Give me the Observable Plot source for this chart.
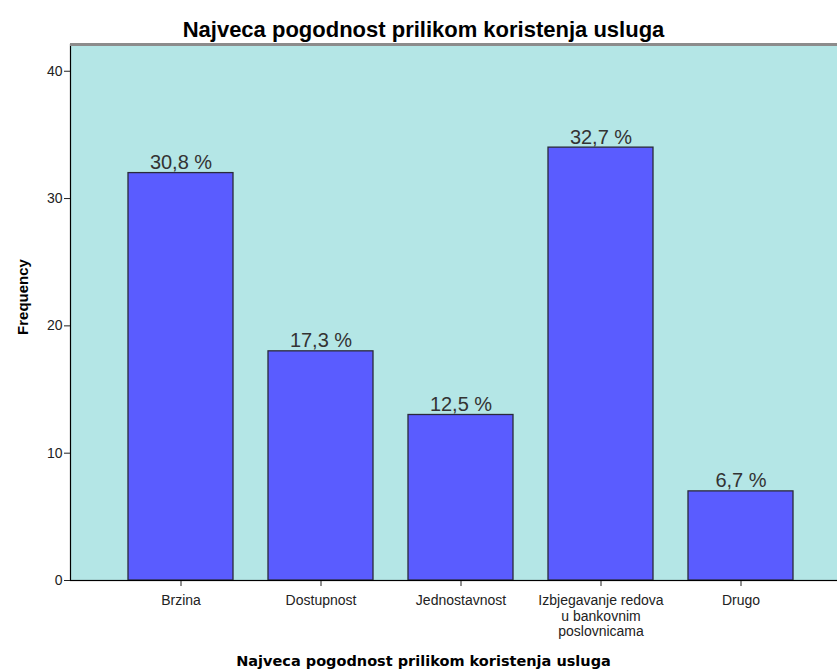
<!DOCTYPE html>
<html>
<head>
<meta charset="utf-8">
<script src="https://cdn.jsdelivr.net/npm/d3@7"></script>
<script src="https://cdn.jsdelivr.net/npm/@observablehq/plot@0.6"></script>
<style>
  body { margin: 0; background: #fff; }
  #wrap { position: relative; width: 837px; height: 672px; overflow: hidden; font-family: "Liberation Sans", Arial, sans-serif; }
  #title { position: absolute; left: 0; top: 17px; width: 847px; text-align: center; font-weight: bold; font-size: 22px; color: #000; }
  #chart { position: absolute; left: 0; top: 40px; }
  #ylab { position: absolute; left: 22px; top: 297px; transform: translate(-50%, -50%) rotate(-90deg); font-weight: bold; font-size: 15px; white-space: nowrap; color: #000; }
  #xlab { position: absolute; left: 0; top: 653px; width: 847px; text-align: center; font-family: "DejaVu Sans", sans-serif; font-weight: bold; font-size: 14.5px; color: #000; }
</style>
</head>
<body>
<div id="wrap">
  <div id="title">Najveca pogodnost prilikom koristenja usluga</div>
  <div id="chart"></div>
  <div id="ylab">Frequency</div>
  <div id="xlab">Najveca pogodnost prilikom koristenja usluga</div>
</div>
<script>
const categories = ["Brzina", "Dostupnost", "Jednostavnost", "Izbjegavanje redova\nu bankovnim\nposlovnicama", "Drugo"];
const counts = [32, 18, 13, 34, 7];
const percentLabels = ["30,8 %", "17,3 %", "12,5 %", "32,7 %", "6,7 %"];
const yTicks = [0, 10, 20, 30, 40];
const yMax = 42.1;

const data = categories.map((c, i) => ({category: c, count: counts[i], label: percentLabels[i]}));

const plot = Plot.plot({
  width: 837,
  height: 632,
  marginTop: 4,
  marginBottom: 92,
  marginLeft: 70,
  marginRight: -15,
  style: {fontFamily: "'Liberation Sans', Arial, sans-serif", background: "transparent", overflow: "hidden"},
  x: {domain: categories, range: [70, 850], paddingInner: 0.25, paddingOuter: 0.4, label: null},
  y: {domain: [0, yMax], label: null},
  marks: [
    Plot.frame({fill: "#b4e6e6", stroke: "#000", strokeWidth: 1.2}),
    Plot.ruleY([yMax], {stroke: "#8c8c8c", strokeWidth: 3}),
    Plot.barY(data, {x: "category", y: "count", fill: "#5a5cff", stroke: "#2a2a3a", strokeWidth: 1.3}),
    Plot.text(data, {x: "category", y: "count", text: "label", lineAnchor: "bottom", dy: -4, fontSize: 20, fill: "#333"}),
    Plot.axisY({ticks: yTicks, tickSize: 6, tickPadding: 2, fontSize: 14, color: "#222", label: null}),
    Plot.axisX({tickSize: 6, tickPadding: 8, fontSize: 14, color: "#222", label: null, lineHeight: 1.1}),
    Plot.ruleY([0], {stroke: "#000", strokeWidth: 1.2})
  ]
});
document.getElementById("chart").appendChild(plot);
</script>
</body>
</html>
